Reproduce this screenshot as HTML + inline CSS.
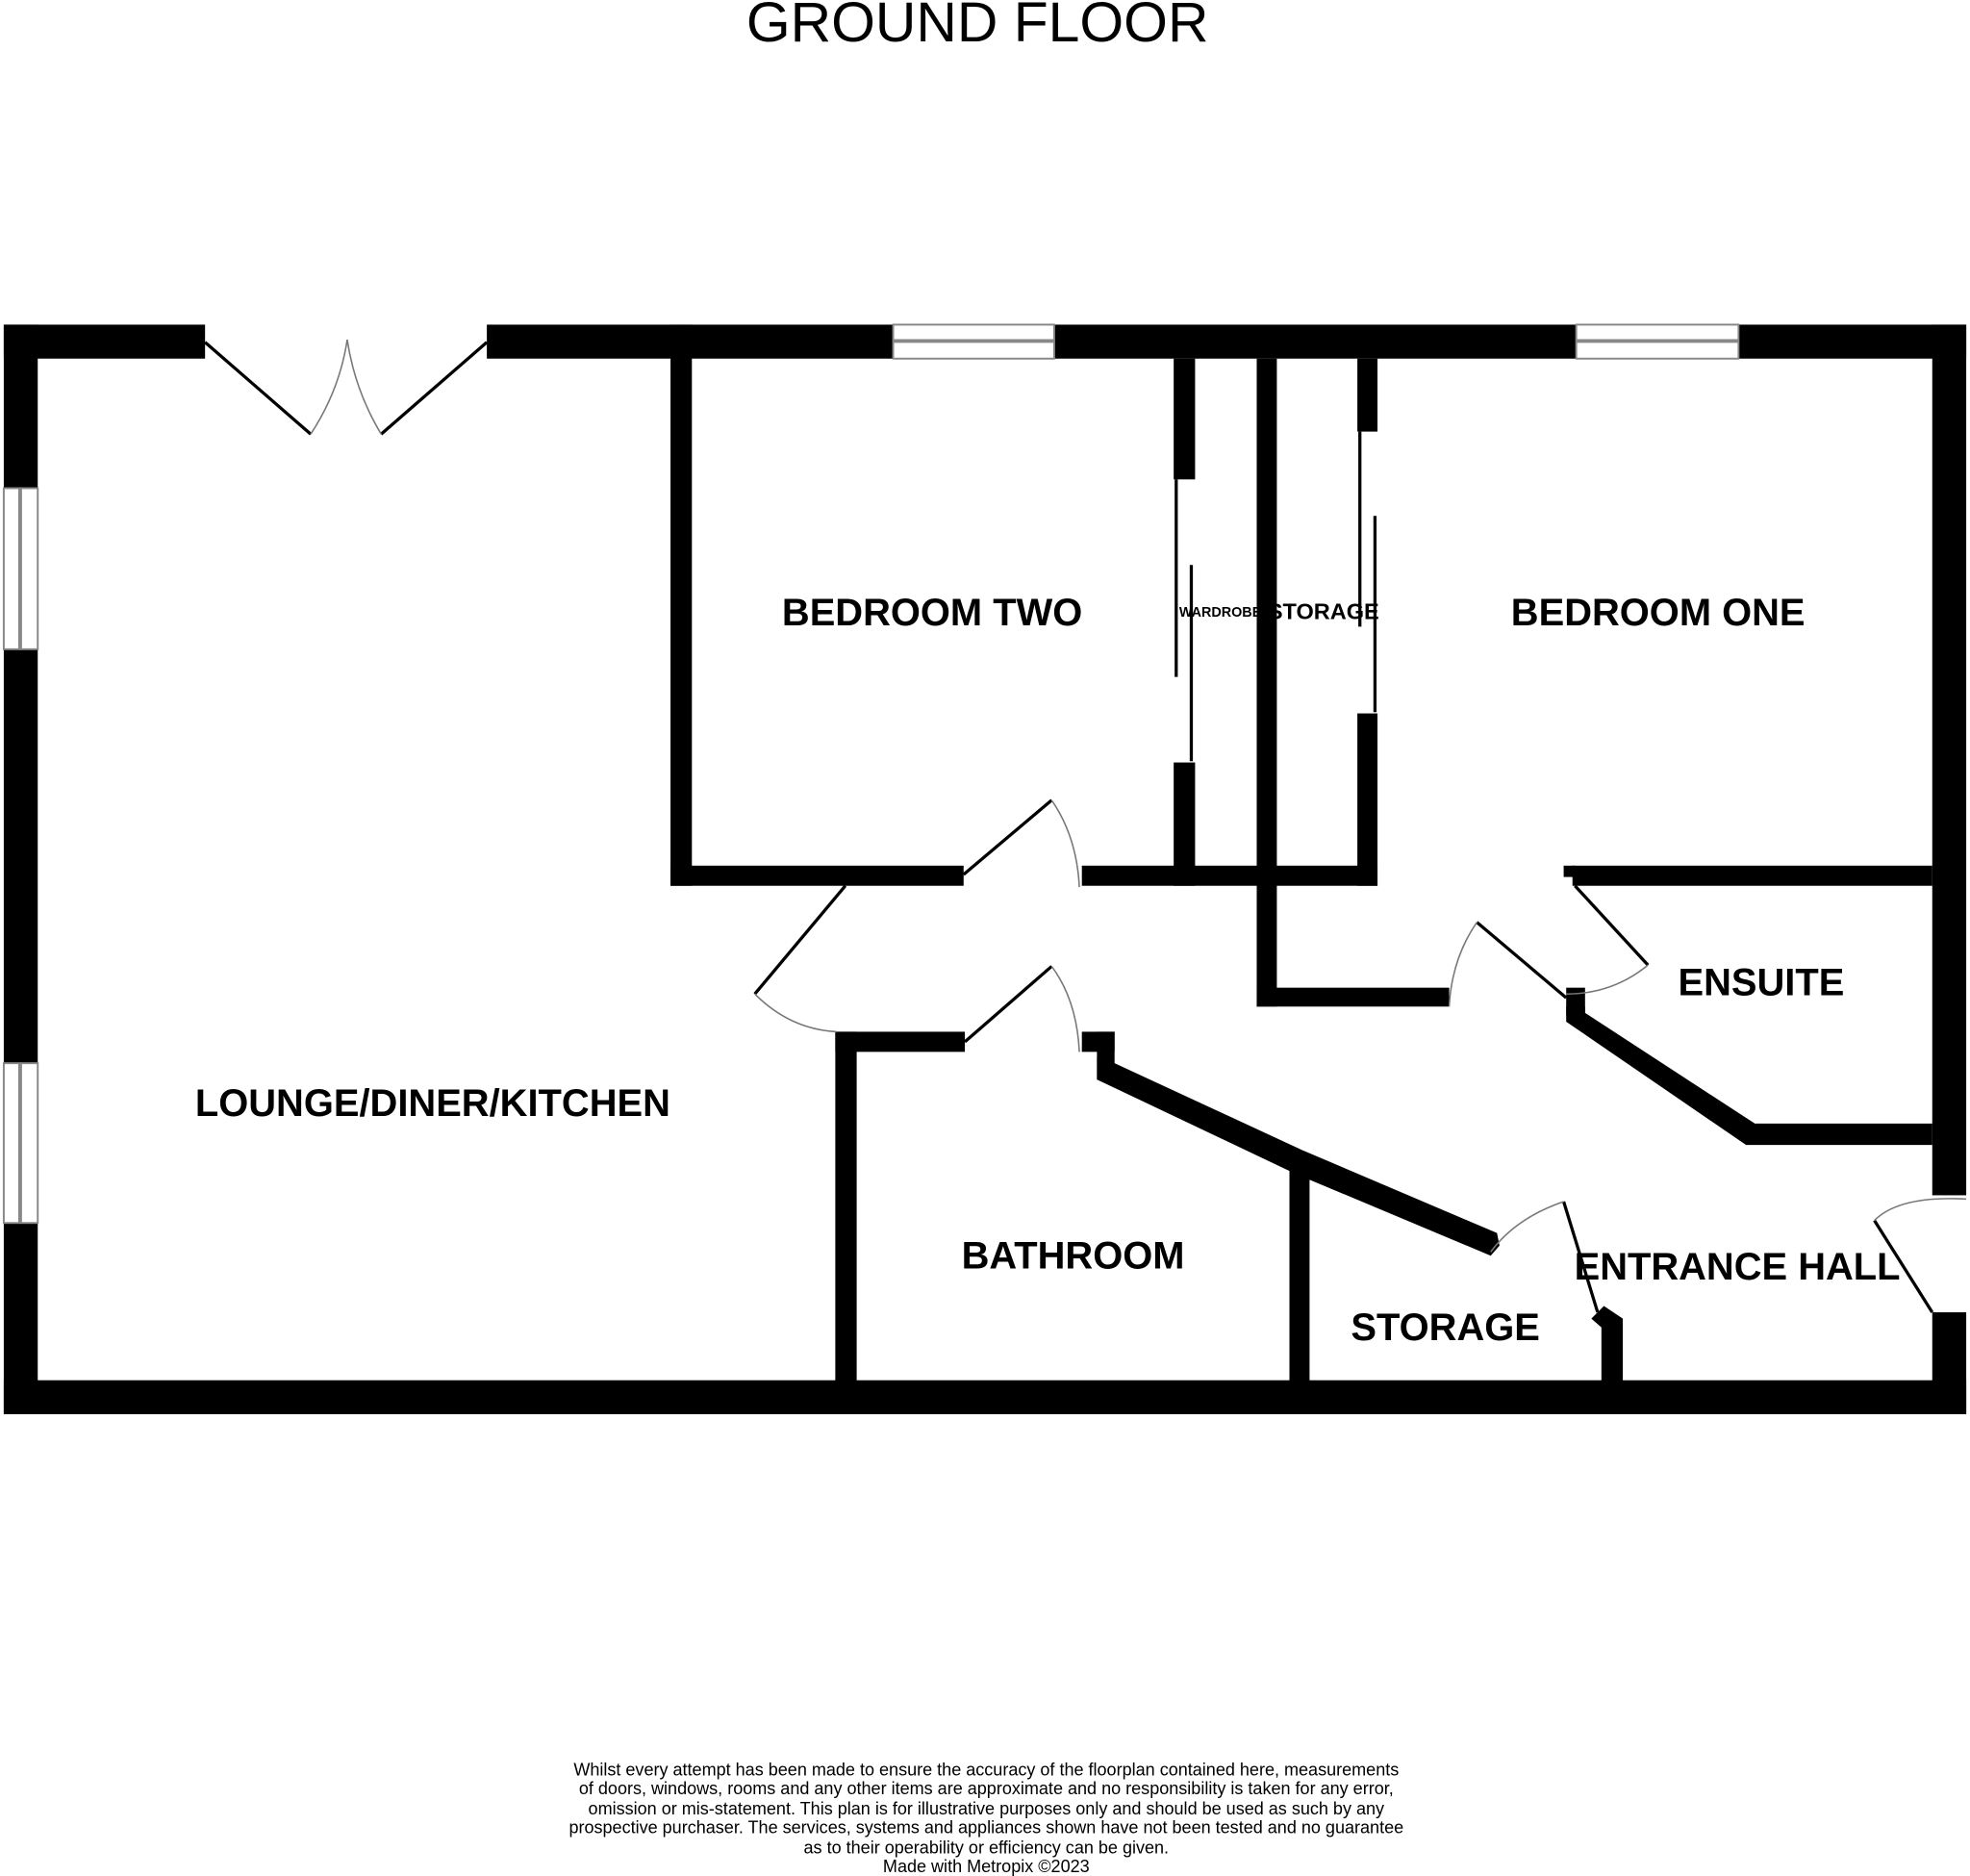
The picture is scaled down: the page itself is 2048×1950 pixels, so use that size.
<!DOCTYPE html>
<html><head><meta charset="utf-8"><style>html,body{margin:0;padding:0;background:#fff}svg{display:block}</style></head><body>
<svg width="2048" height="1950" viewBox="0 0 1566 1491" xmlns="http://www.w3.org/2000/svg" font-family="Liberation Sans, sans-serif">
<rect width="1566" height="1491" fill="#fff"/>
<g fill="#000">
<rect x="3" y="258" width="160" height="27"/>
<rect x="387" y="258" width="323" height="27"/>
<rect x="838" y="258" width="415" height="27"/>
<rect x="1382" y="258" width="181" height="27"/>
<rect x="3" y="258" width="27" height="130"/>
<rect x="3" y="516" width="27" height="329"/>
<rect x="3" y="972" width="27" height="152"/>
<rect x="3" y="1097" width="1560" height="27"/>
<rect x="1536" y="258" width="27" height="692"/>
<rect x="1536" y="1043" width="27" height="81"/>
<rect x="533" y="258" width="17" height="446"/>
<rect x="533" y="688" width="233" height="16"/>
<rect x="860" y="688" width="235" height="16"/>
<rect x="933" y="285" width="17" height="96"/>
<rect x="933" y="606" width="17" height="98"/>
<rect x="999" y="285" width="16" height="515"/>
<rect x="999" y="785" width="153" height="15"/>
<rect x="1079" y="285" width="16" height="58"/>
<rect x="1079" y="567" width="16" height="137"/>
<rect x="1250" y="688" width="286" height="16"/>
<rect x="1243" y="688" width="9" height="9"/>
<rect x="1245" y="785" width="15" height="22"/>
<polygon points="1245,800 1260,800 1260,805 1395,893 1536,893 1536,910 1388,910 1245,812"/>
<rect x="664" y="820" width="103" height="16"/>
<rect x="664" y="820" width="17" height="304"/>
<rect x="860" y="820" width="26" height="16"/>
<rect x="872" y="820" width="14" height="38"/>
<polygon points="872,840 886,845 1035,914 1190,980 1192,990 1185,998 1030,933 872,858"/>
<rect x="1025" y="925" width="16" height="199"/>
<polygon points="1265,1048 1275,1038 1290,1048 1290,1124 1273,1124 1273,1055"/>
</g>
<g stroke="#888" stroke-width="1.5" fill="#fff">
<rect x="710" y="258" width="128" height="27"/>
<rect x="1253" y="258" width="129" height="27"/>
<rect x="3" y="388" width="27" height="128"/>
<rect x="3" y="845" width="27" height="127"/>
</g>
<g stroke="#888" stroke-width="3">
<line x1="710" y1="271" x2="838" y2="271"/><line x1="1253" y1="271" x2="1382" y2="271"/>
<line x1="16" y1="388" x2="16" y2="516"/><line x1="16" y1="845" x2="16" y2="972"/>
</g>
<g stroke="#000" stroke-width="2.5" fill="none">
<line x1="163" y1="272" x2="247" y2="345"/><line x1="387" y1="272" x2="303" y2="345"/>
<line x1="766" y1="695" x2="836" y2="636"/>
<line x1="672" y1="704" x2="600" y2="790"/>
<line x1="767" y1="828" x2="836" y2="768"/>
<line x1="1174" y1="733" x2="1245" y2="793"/>
<line x1="1252" y1="704" x2="1310" y2="767"/>
<line x1="1243" y1="955" x2="1270" y2="1043"/>
<line x1="1536" y1="1043" x2="1490" y2="970"/>
<line x1="935" y1="381" x2="935" y2="538"/><line x1="947" y1="449" x2="947" y2="605"/>
<line x1="1081" y1="343" x2="1081" y2="498"/><line x1="1093" y1="410" x2="1093" y2="566"/>
</g>
<g stroke="#777" stroke-width="1.2" fill="none">
<path d="M247,345 Q270,310 276,270"/><path d="M303,345 Q282,310 276,270"/>
<path d="M836,636 Q856,665 858,705"/>
<path d="M600,790 Q628,818 665,820"/>
<path d="M836,768 Q856,795 858,836"/>
<path d="M1174,733 Q1154,762 1152,800"/>
<path d="M1310,767 Q1282,790 1245,790"/>
<path d="M1243,955 Q1205,968 1185,995"/>
<path d="M1490,970 Q1510,950 1563,953"/>
</g>
<g font-weight="bold" font-size="30.5" text-anchor="middle" fill="#000">
<text x="741" y="497">BEDROOM TWO</text>
<text x="1318" y="497">BEDROOM ONE</text>
<text x="344" y="887">LOUNGE/DINER/KITCHEN</text>
<text x="1400" y="791">ENSUITE</text>
<text x="853" y="1008">BATHROOM</text>
<text x="1149" y="1065">STORAGE</text>
<text x="1381" y="1017">ENTRANCE HALL</text>
<text x="970" y="490" font-size="11">WARDROBE</text>
<text x="1052" y="492" font-size="18">STORAGE</text>
</g>
<text x="777" y="33" font-size="45" text-anchor="middle">GROUND FLOOR</text>
<g font-size="13.8" text-anchor="middle" fill="#000">
<text x="784" y="1411">Whilst every attempt has been made to ensure the accuracy of the floorplan contained here, measurements</text>
<text x="784" y="1426">of doors, windows, rooms and any other items are approximate and no responsibility is taken for any error,</text>
<text x="784" y="1442">omission or mis-statement. This plan is for illustrative purposes only and should be used as such by any</text>
<text x="784" y="1457">prospective purchaser. The services, systems and appliances shown have not been tested and no guarantee</text>
<text x="784" y="1473">as to their operability or efficiency can be given.</text>
<text x="784" y="1488">Made with Metropix ©2023</text>
</g>
</svg>
</body></html>
